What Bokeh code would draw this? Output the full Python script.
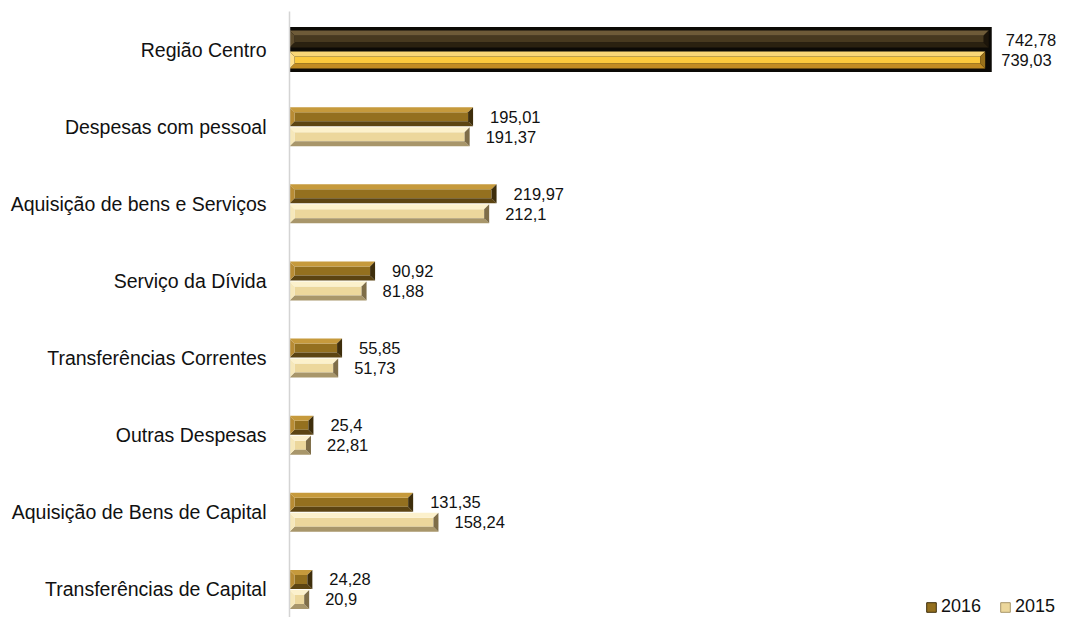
from bokeh.plotting import figure
from bokeh.models import Range1d, FixedTicker, Legend, LegendItem, ColumnDataSource
from bokeh.core.properties import value
from bokeh.embed import file_html
from bokeh.resources import INLINE

categories = ["Região Centro", "Despesas com pessoal", "Aquisição de bens e Serviços",
              "Serviço da Dívida", "Transferências Correntes", "Outras Despesas",
              "Aquisição de Bens de Capital", "Transferências de Capital"]
values_2016 = [742.78, 195.01, 219.97, 90.92, 55.85, 25.4, 131.35, 24.28]
values_2015 = [739.03, 191.37, 212.1, 81.88, 51.73, 22.81, 158.24, 20.9]
series_names = ["2016", "2015"]

FONT = "Liberation Sans"

p = figure(width=1060, height=617, output_backend="svg", toolbar_location=None,
           x_range=Range1d(0, 819), y_range=Range1d(7.363, -0.4926),
           x_axis_location=None, min_border_top=11, min_border_bottom=0,
           min_border_left=289, min_border_right=0)
p.outline_line_color = None
p.grid.visible = False
p.background_fill_color = "white"

ax = p.yaxis[0]
ax.ticker = FixedTicker(ticks=list(range(len(categories))))
ax.major_label_overrides = {i: c for i, c in enumerate(categories)}
ax.major_tick_line_color = None
ax.minor_tick_line_color = None
ax.major_tick_out = 0
ax.major_tick_in = 0
ax.axis_line_color = "#d4d4d4"
ax.axis_line_width = 1.5
ax.major_label_standoff = 23
ax.major_label_text_font = FONT
ax.major_label_text_font_size = "19.5px"
ax.major_label_text_color = "#111111"

PX_Y = 1 / 77.14          # index units per pixel
PX_X = 1 / 0.941          # value units per pixel

normal_colors = {
    "2016": dict(top="#c69a3c", front="#94701f", bottom="#5c4412", left="#b88c34", right="#3e2e0c"),
    "2015": dict(top="#fcf1cc", front="#ecd79c", bottom="#a8966a", left="#f6e8ba", right="#7e6d48"),
}
centro_colors = {
    "2016": dict(top="#6e5b38", front="#47391f", bottom="#2a2110", left="#5e4d2e", right="#1c150a"),
    "2015": dict(top="#f9d676", front="#fcc93c", bottom="#c18b22", left="#ffe08c", right="#98701a"),
}


def faces(vals, centers, h, colors):
    dy = 5 * PX_Y
    tops_x, tops_y, bots_x, bots_y = [], [], [], []
    lx, ly, rx, ry = [], [], [], []
    for v, c in zip(vals, centers):
        dx = min(5 * PX_X, v / 2)
        yt, yb = c - h / 2, c + h / 2
        tops_x.append([0, v, v - dx, dx]); tops_y.append([yt, yt, yt + dy, yt + dy])
        bots_x.append([0, v, v - dx, dx]); bots_y.append([yb, yb, yb - dy, yb - dy])
        lx.append([0, dx, dx, 0]); ly.append([yt, yt + dy, yb - dy, yb])
        rx.append([v, v - dx, v - dx, v]); ry.append([yt, yt + dy, yb - dy, yb])
    p.quad(left=[min(5 * PX_X, v / 2) for v in vals], right=[v - min(5 * PX_X, v / 2) for v in vals],
           top=[c - h / 2 + dy for c in centers], bottom=[c + h / 2 - dy for c in centers],
           fill_color=colors["front"], line_color=None)
    p.patches(xs=tops_x, ys=tops_y, fill_color=colors["top"], line_color=None)
    p.patches(xs=bots_x, ys=bots_y, fill_color=colors["bottom"], line_color=None)
    p.patches(xs=lx, ys=ly, fill_color=colors["left"], line_color=None)
    p.patches(xs=rx, ys=ry, fill_color=colors["right"], line_color=None)


idx = list(range(len(categories)))
off = 10 * PX_Y
h = 19 * PX_Y

# black frame behind "Região Centro"
p.quad(left=[0], right=[max(values_2016[0], values_2015[0]) + 3 * PX_X],
       top=[idx[0] - 22.5 * PX_Y], bottom=[idx[0] + 22.5 * PX_Y],
       fill_color="#0c0a06", line_color=None)
faces(values_2016[:1], [idx[0] - 10.5 * PX_Y], 17 * PX_Y, centro_colors["2016"])
faces(values_2015[:1], [idx[0] + 10.5 * PX_Y], 17 * PX_Y, centro_colors["2015"])

faces(values_2016[1:], [i - off for i in idx[1:]], h, normal_colors["2016"])
faces(values_2015[1:], [i + off for i in idx[1:]], h, normal_colors["2015"])

lab_src16 = ColumnDataSource(dict(x=values_2016, y=[i - off for i in idx],
                                  t=[str(v).replace(".", ",") for v in values_2016]))
lab_src15 = ColumnDataSource(dict(x=values_2015, y=[i + off for i in idx],
                                  t=[str(v).replace(".", ",") for v in values_2015]))
for src, xo in ((lab_src16, 17), (lab_src15, 16)):
    p.text(x="x", y="y", text="t", source=src, x_offset=xo, text_align="left",
           text_baseline="middle", text_font=value(FONT), text_font_size="16.5px",
           text_color="#111111")

# legend-only renderers (placed outside the visible range)
r16 = p.quad(left=[-20], right=[-10], top=[-5], bottom=[-6],
             fill_color=normal_colors["2016"]["front"], line_color=normal_colors["2016"]["right"])
r15 = p.quad(left=[-20], right=[-10], top=[-5], bottom=[-6],
             fill_color=normal_colors["2015"]["front"], line_color=normal_colors["2015"]["bottom"])
legend = Legend(items=[LegendItem(label=series_names[0], renderers=[r16]),
                       LegendItem(label=series_names[1], renderers=[r15])],
                orientation="horizontal", location=(636, 0), padding=0, margin=0,
                spacing=18, label_standoff=4, glyph_width=12, glyph_height=12,
                border_line_color=None, background_fill_alpha=0,
                label_text_font=FONT, label_text_font_size="18px",
                label_text_color="#111111", label_height=20)
p.add_layout(legend)

open("out.html", "w").write(file_html(p, INLINE))
